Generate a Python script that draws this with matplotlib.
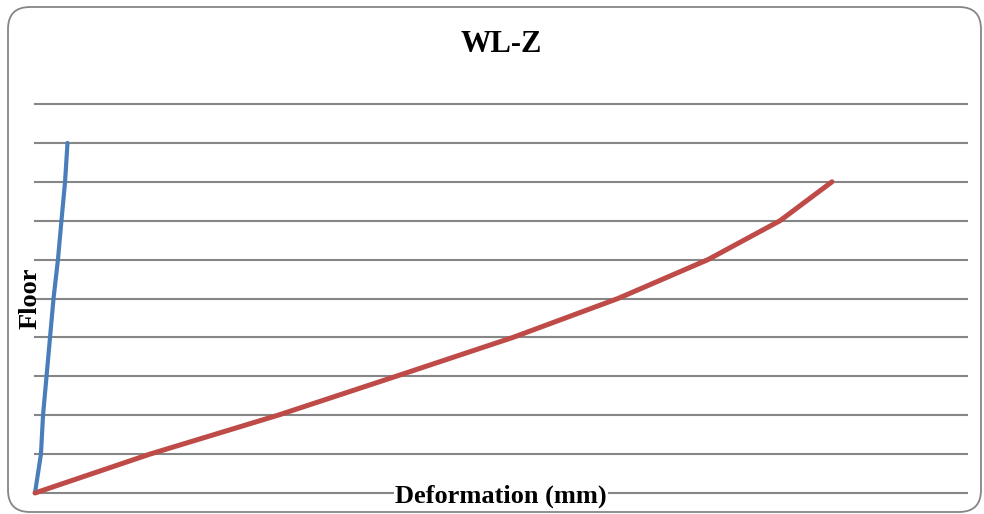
import matplotlib
matplotlib.use("Agg")
import matplotlib.pyplot as plt
from matplotlib.patches import FancyBboxPatch
from matplotlib.transforms import IdentityTransform

# floors and deformations (mm)
floors_blue = [0, 1, 2, 3, 4, 5, 6, 7, 8, 9]
defo_blue = [0.0, 0.51, 0.69, 0.99, 1.29, 1.59, 1.97, 2.27, 2.58, 2.79]
floors_red = [0, 1, 2, 3, 4, 5, 6, 7, 8]
defo_red = [0.0, 9.87, 20.86, 30.99, 41.03, 50.04, 57.77, 63.95, 68.41]
x_max = 80
y_max = 10

W, H = 984, 514
fig = plt.figure(figsize=(W / 100, H / 100), dpi=100)
ax = fig.add_axes([35 / W, 1 - 493 / H, (967 - 35) / W, (493 - 104) / H])

ax.plot(defo_blue, floors_blue, color='#4A7EBB', lw=3.0, clip_on=False,
        solid_capstyle='round', zorder=3)
ax.plot(defo_red, floors_red, color='#BE4B48', lw=3.6, clip_on=False,
        solid_capstyle='round', zorder=3)

ax.set_xlim(0, x_max)
ax.set_ylim(0, y_max)
ax.set_yticks(range(0, y_max + 1))
ax.set_xticks([])
ax.tick_params(length=0, labelleft=False)
ax.grid(axis='y', color='#868686', lw=1.5)
for gl in ax.get_ygridlines():
    gl.set_clip_on(False)
ax.set_axisbelow(True)
for s in ax.spines.values():
    s.set_visible(False)

serif = 'Liberation Serif'
fig.text(501 / W, 1 - 45 / H, 'WL-Z', ha='center', va='center',
         fontsize=22, fontweight='bold', family=serif)
fig.text(501 / W, 1 - 496 / H, 'Deformation (mm)', ha='center', va='center',
         fontsize=19, fontweight='bold', family=serif, zorder=5,
         bbox=dict(facecolor='white', edgecolor='none', pad=1))
fig.text(30 / W, 1 - 298 / H, 'Floor', ha='center', va='center', rotation=90,
         fontsize=19, fontweight='bold', family=serif)

border = FancyBboxPatch((8, 2), 973, 505, boxstyle='round,pad=0,rounding_size=22',
                        transform=IdentityTransform(), facecolor='none',
                        edgecolor='#868686', lw=1.3)
fig.patches.append(border)

fig.savefig('out.png', dpi=100)
